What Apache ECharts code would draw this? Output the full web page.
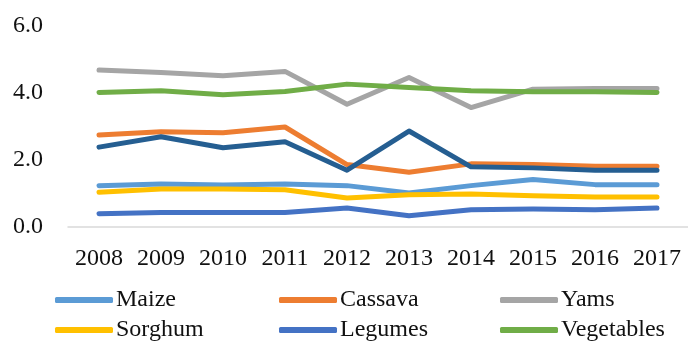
<!DOCTYPE html>
<html>
<head>
<meta charset="utf-8">
<script src="https://cdn.jsdelivr.net/npm/echarts@6/dist/echarts.min.js"></script>
<style>
  html, body { margin: 0; padding: 0; background: #fff; }
  #chart { width: 688px; height: 345px; }
</style>
</head>
<body>
<div id="chart"></div>
<script>
// Yields per year, by crop
const years = ['2008', '2009', '2010', '2011', '2012', '2013', '2014', '2015', '2016', '2017'];
const yTicks = [0, 2, 4, 6];

const maize      = [1.22, 1.27, 1.24, 1.27, 1.22, 1.00, 1.22, 1.40, 1.25, 1.25];
const cassava    = [2.73, 2.83, 2.80, 2.97, 1.85, 1.62, 1.87, 1.85, 1.80, 1.80];
const yams       = [4.67, 4.60, 4.50, 4.63, 3.65, 4.45, 3.55, 4.10, 4.12, 4.12];
const sorghum    = [1.02, 1.12, 1.12, 1.10, 0.85, 0.95, 0.97, 0.92, 0.88, 0.88];
const legumes    = [0.38, 0.42, 0.42, 0.42, 0.55, 0.32, 0.50, 0.52, 0.50, 0.55];
const vegetables = [4.00, 4.05, 3.93, 4.03, 4.25, 4.15, 4.05, 4.02, 4.02, 4.00];
const other      = [2.37, 2.68, 2.35, 2.53, 1.68, 2.85, 1.78, 1.75, 1.68, 1.68];

const FONT = '"Liberation Serif", "DejaVu Serif", serif';
const TEXT = '#111';

const seriesDefs = [
  { name: 'Maize',      data: maize,      color: '#5B9BD5' },
  { name: 'Cassava',    data: cassava,    color: '#ED7D31' },
  { name: 'Yams',       data: yams,       color: '#A5A5A5' },
  { name: 'Sorghum',    data: sorghum,    color: '#FFC000' },
  { name: 'Legumes',    data: legumes,    color: '#4472C4' },
  { name: 'Vegetables', data: vegetables, color: '#70AD47' },
  { name: 'Other',      data: other,      color: '#255E91' }
];

// Legend grid: three columns, two rows
const legendCols = [55, 279, 500];
const legendRows = [288, 318];
const legendOrder = [
  ['Maize', 'Cassava', 'Yams'],
  ['Sorghum', 'Legumes', 'Vegetables']
];

const legends = [];
legendOrder.forEach((row, r) => {
  row.forEach((name, c) => {
    legends.push({
      left: legendCols[c],
      top: legendRows[r],
      padding: 0,
      itemWidth: 58,
      itemHeight: 6,
      icon: 'roundRect',
      selectedMode: false,
      data: [name],
      textStyle: { fontFamily: FONT, fontSize: 24, color: TEXT, padding: [0, 0, 0, -2] }
    });
  });
});

const chart = echarts.init(document.getElementById('chart'), null, { renderer: 'canvas' });
chart.setOption({
  animation: false,
  grid: { left: 68, right: 0, top: 25.5, bottom: 118.5, containLabel: false },
  legend: legends,
  xAxis: {
    type: 'category',
    data: years,
    boundaryGap: true,
    axisLine: { lineStyle: { color: '#D9D9D9', width: 1.5 } },
    axisTick: { show: false },
    axisLabel: { interval: 0, fontFamily: FONT, fontSize: 24, color: TEXT, margin: 20 }
  },
  yAxis: {
    type: 'value',
    min: yTicks[0],
    max: yTicks[yTicks.length - 1],
    interval: yTicks[1] - yTicks[0],
    splitLine: { show: false },
    axisLine: { show: false },
    axisTick: { show: false },
    axisLabel: {
      fontFamily: FONT, fontSize: 24, color: TEXT, margin: 25,
      formatter: v => v.toFixed(1)
    }
  },
  series: seriesDefs.map(s => ({
    name: s.name,
    type: 'line',
    data: s.data,
    symbol: 'none',
    color: s.color,
    lineStyle: { color: s.color, width: 5, cap: 'round', join: 'round' },
    z: s.name === 'Other' ? 3 : 2
  }))
});
</script>
</body>
</html>
